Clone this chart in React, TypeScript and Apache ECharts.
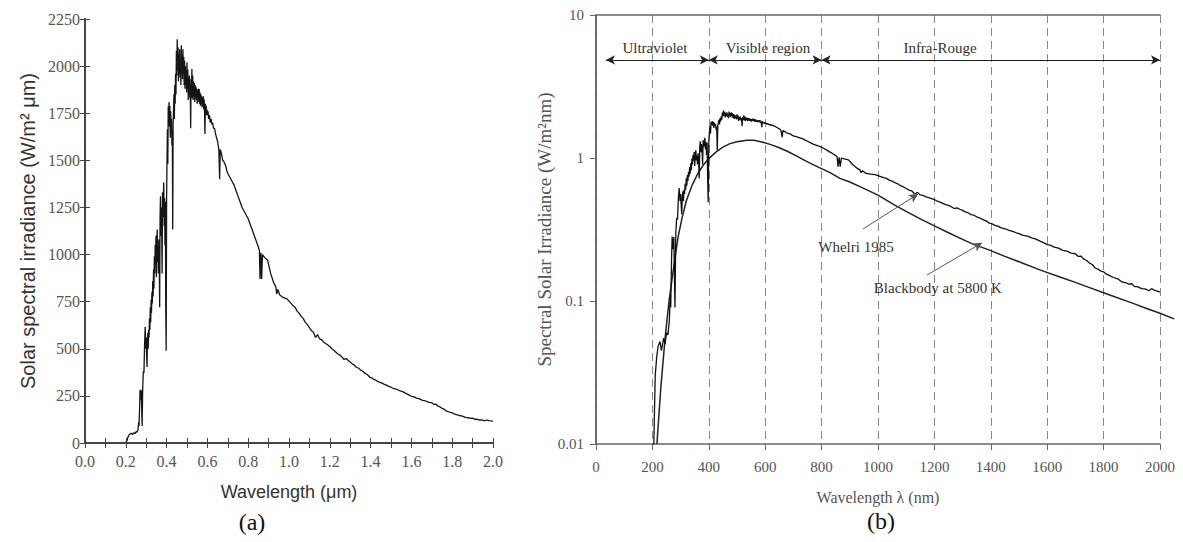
import React, { useEffect, useRef } from 'react';
import * as echarts from 'echarts';

// ---- Measured solar spectrum (wavelength in nm, irradiance in W/m²·µm) ----
const spectrumNm = [
  200, 205, 210, 215, 220, 227, 232, 240, 245, 250, 255, 260, 263, 265, 268, 270, 273, 276, 280, 283,
  286, 289, 292, 295, 298, 300, 302, 304, 306, 308, 310, 312, 314, 316, 318, 320, 322, 324, 326, 328,
  330, 332, 334, 336, 338, 340, 342, 344, 346, 348, 350, 352, 354, 356, 358, 360, 362, 364, 366, 368,
  370, 372, 374, 376, 378, 380, 382, 384, 386, 388, 390, 392, 394, 396, 398, 400, 402, 404, 406, 408,
  410, 412, 414, 416, 418, 420, 422, 424, 426, 428, 430, 432, 434, 436, 438, 440, 442, 444, 446, 448,
  450, 452, 454, 456, 458, 460, 462, 464, 466, 468, 470, 472, 474, 476, 478, 480, 482, 484, 486, 488,
  490, 492, 494, 496, 498, 500, 502, 504, 506, 508, 510, 512, 514, 516, 518, 520, 522, 524, 526, 528,
  530, 532, 534, 536, 538, 540, 542, 544, 546, 548, 550, 552, 554, 556, 558, 560, 562, 564, 566, 568,
  570, 572, 574, 576, 578, 580, 582, 584, 586, 588, 590, 592, 594, 596, 598, 600, 603, 606, 610, 614,
  618, 622, 626, 630, 635, 640, 645, 650, 656, 660, 663, 670, 675, 680, 690, 695, 700, 710, 720, 730,
  740, 750, 760, 770, 780, 790, 800, 810, 820, 830, 840, 850, 855, 858, 862, 866, 870, 880, 895, 910,
  925, 935, 940, 945, 955, 973, 990, 1007, 1020, 1030, 1040, 1050, 1060, 1070, 1080, 1090, 1100, 1110, 1120, 1130,
  1140, 1150, 1160, 1170, 1180, 1190, 1200, 1210, 1220, 1230, 1240, 1250, 1260, 1270, 1280, 1290, 1300, 1310, 1320, 1330,
  1340, 1350, 1360, 1370, 1385, 1395, 1405, 1415, 1425, 1435, 1450, 1465, 1480, 1490, 1500, 1515, 1530, 1545, 1560, 1575,
  1590, 1600, 1610, 1625, 1640, 1655, 1670, 1685, 1700, 1710, 1720, 1730, 1740, 1750, 1760, 1770, 1780, 1790, 1800, 1810,
  1820, 1835, 1850, 1865, 1880, 1890, 1900, 1910, 1920, 1935, 1950, 1960, 1970, 1980, 1990, 2000,
];
const spectrumWm2um = [
  5, 10, 30, 40, 48, 52, 45, 55, 50, 60, 58, 72, 110, 90, 200, 282, 230, 280, 90, 300,
  380, 372, 520, 617, 500, 560, 470, 404, 540, 585, 500, 600, 560, 660, 600, 720, 640, 760, 690, 800,
  740, 860, 777, 920, 820, 990, 900, 1050, 957, 1100, 880, 1050, 1133, 960, 1040, 900, 1080, 980, 720, 1200,
  1309, 1100, 1250, 1150, 900, 1330, 1200, 1290, 1383, 1150, 1300, 1050, 1280, 700, 490, 1300, 1500, 1665, 1480, 1787,
  1700, 1810, 1680, 1790, 1620, 1760, 1680, 1720, 1580, 1660, 1133, 1700, 1760, 1850, 1720, 1900, 1800, 1960, 1850, 2080,
  1950, 2143, 1980, 2100, 1920, 2060, 1960, 2090, 1940, 2040, 1900, 2110, 1960, 2060, 1930, 2090, 1960, 2050, 1900, 2030,
  1880, 2000, 1900, 1980, 1860, 2021, 1880, 1980, 1820, 1940, 1850, 1950, 1830, 1900, 1670, 1930, 1840, 1984, 1830, 1950,
  1820, 1920, 1840, 1910, 1810, 1900, 1830, 1890, 1820, 1880, 1800, 1870, 1820, 1880, 1810, 1878, 1800, 1860, 1790, 1850,
  1800, 1840, 1780, 1830, 1790, 1840, 1770, 1824, 1760, 1640, 1800, 1760, 1790, 1740, 1770, 1740, 1760, 1720, 1740, 1700,
  1720, 1690, 1700, 1670, 1670, 1640, 1620, 1600, 1560, 1400, 1558, 1530, 1500, 1495, 1470, 1445, 1430, 1410, 1390, 1370,
  1340, 1310, 1280, 1250, 1230, 1210, 1190, 1160, 1130, 1100, 1070, 1040, 1020, 870, 1010, 870, 1000, 985, 970, 900,
  850, 830, 790, 815, 785, 771, 765, 745, 728, 720, 700, 688, 672, 660, 640, 628, 612, 596, 588, 560,
  575, 552, 548, 535, 528, 520, 512, 500, 492, 482, 472, 466, 456, 443, 448, 438, 430, 420, 414, 402,
  398, 388, 382, 372, 362, 350, 346, 338, 334, 326, 320, 312, 306, 300, 296, 288, 284, 276, 271, 262,
  254, 248, 246, 238, 234, 226, 223, 216, 214, 205, 206, 196, 192, 184, 180, 170, 167, 162, 160, 154,
  151, 146, 143, 136, 134, 131, 132, 126, 126, 122, 121, 118, 122, 119, 117, 116,
];

// ---- Blackbody at 5800 K (wavelength in nm, irradiance in W/m²·nm) ----
const blackbodyNm = [
  216, 230, 245, 259, 275, 291, 305, 320, 340, 360, 380, 400, 425, 450, 475, 500, 535, 560, 592, 620,
  650, 680, 712, 750, 790, 830, 865, 900, 936, 1000, 1050, 1103, 1150, 1200, 1250, 1300, 1337, 1400, 1450, 1500,
  1574, 1650, 1700, 1750, 1812, 1900, 1950, 2000, 2050,
];
const blackbodyWm2nm = [
  0.01, 0.025, 0.055, 0.1, 0.17, 0.28, 0.38, 0.5, 0.64, 0.77, 0.89, 0.99, 1.1, 1.19, 1.26, 1.3, 1.33, 1.33, 1.29, 1.24,
  1.18, 1.11, 1.03, 0.94, 0.86, 0.79, 0.72, 0.68, 0.63, 0.55, 0.48, 0.42, 0.375, 0.335, 0.3, 0.27, 0.25, 0.225, 0.205, 0.188,
  0.165, 0.146, 0.135, 0.124, 0.112, 0.097, 0.089, 0.082, 0.075,
];

// ---- Axis ticks ----
const leftXTicks = { min: 0, max: 2, step: 0.2 };
const leftYTicks = { min: 0, max: 2250, step: 250 };
const rightXTicks = { min: 0, max: 2000, step: 200 };
const rightYTickLabels = ['0.01', '0.1', '1', '10'];

// ---- Annotations on panel (b) (data coordinates) ----
const regionArrowLevel = 4.85;
const regionArrows = [
  { from: 35, to: 400 },
  { from: 400, to: 800 },
  { from: 800, to: 2000 },
];
const regionLabels = [
  { text: 'Ultraviolet', x: 209, y: 5.9 },
  { text: 'Visible region', x: 610, y: 5.9 },
  { text: 'Infra-Rouge', x: 1220, y: 5.9 },
];
const pointerArrows = [
  { x1: 947, y1: 0.319, x2: 1142, y2: 0.56 },
  { x1: 1174, y1: 0.152, x2: 1369, y2: 0.255 },
];
const curveLabels = [
  { text: 'Whelri 1985', x: 922, y: 0.239 },
  { text: 'Blackbody at 5800 K', x: 1212, y: 0.123 },
];
const panelCaptions = [
  { text: '(a)', px: 252, py: 522 },
  { text: '(b)', px: 881, py: 521 },
];

const SERIF = '"Liberation Serif", "Times New Roman", serif';
const SANS = '"Liberation Sans", Arial, sans-serif';

export default function App() {
  const ref = useRef<HTMLDivElement>(null);

  useEffect(() => {
    if (!ref.current) return;
    const chart = echarts.init(ref.current, undefined, { renderer: 'svg' });

    const leftData = spectrumNm.map((nm, i) => [nm / 1000, spectrumWm2um[i]]);
    const rightData = spectrumNm.map((nm, i) => [nm, spectrumWm2um[i] / 1000]);
    const bbData = blackbodyNm.map((nm, i) => [nm, blackbodyWm2nm[i]]);

    const leftFrame = { color: '#444', width: 1.8 };
    const rightFrame = { color: '#666', width: 1.5 };
    const plain = (v: number) => String(v);

    const option: any = {
      animation: false,
      backgroundColor: '#fff',
      grid: [
        { left: 85, top: 19, width: 408, height: 424 },
        { left: 596, top: 15, width: 564, height: 429 },
      ],
      xAxis: [
        {
          gridIndex: 0, type: 'value', position: 'bottom',
          min: leftXTicks.min, max: leftXTicks.max, interval: leftXTicks.step,
          axisLine: { show: true, lineStyle: leftFrame },
          axisTick: { show: true, inside: true, length: 5, lineStyle: { color: '#444', width: 1 } },
          minorTick: { show: true, splitNumber: 2, length: 5, lineStyle: { color: '#444', width: 1 } },
          axisLabel: { formatter: (v: number) => v.toFixed(1), color: '#555', fontFamily: SERIF, fontSize: 16, margin: 10 },
          splitLine: { show: false },
          name: 'Wavelength (μm)', nameLocation: 'middle', nameGap: 40,
          nameTextStyle: { fontFamily: SANS, fontSize: 18, color: '#333' },
        },
        {
          gridIndex: 0, type: 'value', position: 'top',
          min: leftXTicks.min, max: leftXTicks.max, interval: leftXTicks.step,
          axisLine: { show: true, lineStyle: leftFrame },
          axisTick: { show: true, inside: true, length: 5, lineStyle: { color: '#444', width: 1 } },
          minorTick: { show: true, splitNumber: 2, length: 5, lineStyle: { color: '#444', width: 1 } },
          axisLabel: { show: false }, splitLine: { show: false },
        },
        {
          gridIndex: 1, type: 'value', position: 'bottom',
          min: rightXTicks.min, max: rightXTicks.max, interval: rightXTicks.step,
          axisLine: { show: true, lineStyle: rightFrame },
          axisTick: { show: true, inside: false, length: 6, lineStyle: { color: '#666', width: 1 } },
          axisLabel: { color: '#555', fontFamily: SERIF, fontSize: 15, margin: 15, formatter: plain },
          splitLine: { show: true, lineStyle: { color: '#888', width: 1, type: [8, 5] } },
          name: 'Wavelength λ (nm)', nameLocation: 'middle', nameGap: 45,
          nameTextStyle: { fontFamily: SERIF, fontSize: 16, color: '#555' },
        },
        {
          gridIndex: 1, type: 'value', position: 'top',
          min: rightXTicks.min, max: rightXTicks.max, interval: rightXTicks.step,
          axisLine: { show: true, lineStyle: rightFrame },
          axisTick: { show: false }, axisLabel: { show: false }, splitLine: { show: false },
        },
      ],
      yAxis: [
        {
          gridIndex: 0, type: 'value', position: 'left',
          min: leftYTicks.min, max: leftYTicks.max, interval: leftYTicks.step,
          axisLine: { show: true, lineStyle: leftFrame },
          axisTick: { show: true, inside: true, length: 5, lineStyle: { color: '#444', width: 1 } },
          axisLabel: { color: '#555', fontFamily: SERIF, fontSize: 16, margin: 5, formatter: plain },
          splitLine: { show: false },
          name: 'Solar spectral irradiance (W/m² μm)', nameLocation: 'middle', nameGap: 47,
          nameTextStyle: { fontFamily: SANS, fontSize: 20, color: '#333' },
        },
        {
          gridIndex: 0, type: 'value', position: 'right',
          min: leftYTicks.min, max: leftYTicks.max, interval: leftYTicks.step,
          axisLine: { show: true, lineStyle: leftFrame },
          axisTick: { show: true, inside: true, length: 5, lineStyle: { color: '#444', width: 1 } },
          axisLabel: { show: false }, splitLine: { show: false },
        },
        {
          gridIndex: 1, type: 'log', logBase: 10, position: 'left',
          min: 0.01, max: 10,
          axisLine: { show: true, lineStyle: rightFrame },
          axisTick: { show: true, inside: false, length: 6, lineStyle: { color: '#666', width: 1 } },
          axisLabel: {
            color: '#555', fontFamily: SERIF, fontSize: 15, margin: 12,
            formatter: (v: number) => rightYTickLabels[Math.round(Math.log10(v)) + 2] ?? '',
          },
          splitLine: { show: false },
          name: 'Spectral Solar Irradiance (W/m²nm)', nameLocation: 'middle', nameGap: 40,
          nameTextStyle: { fontFamily: SERIF, fontSize: 19, color: '#555' },
        },
        {
          gridIndex: 1, type: 'log', logBase: 10, position: 'right',
          min: 0.01, max: 10,
          axisLine: { show: true, lineStyle: rightFrame },
          axisTick: { show: false }, axisLabel: { show: false }, splitLine: { show: false },
        },
      ],
      series: [
        {
          type: 'line', xAxisIndex: 0, yAxisIndex: 0, data: leftData,
          symbol: 'none', clip: true,
          lineStyle: { color: '#151515', width: 1.3 },
        },
        {
          type: 'line', xAxisIndex: 2, yAxisIndex: 2, data: rightData,
          symbol: 'none', clip: true,
          lineStyle: { color: '#111', width: 1.3 },
          markLine: {
            silent: true,
            symbolSize: [7, 9],
            lineStyle: { color: '#222', width: 1, type: 'solid' },
            label: { show: false },
            emphasis: { disabled: true },
            data: [
              ...regionArrows.map((a) => [
                { coord: [a.from, regionArrowLevel], symbol: 'arrow' },
                { coord: [a.to, regionArrowLevel], symbol: 'arrow' },
              ]),
              ...pointerArrows.map((a) => [
                { coord: [a.x1, a.y1], symbol: 'none', lineStyle: { color: '#555' } },
                { coord: [a.x2, a.y2], symbol: 'arrow' },
              ]),
            ],
          },
          markPoint: {
            silent: true,
            symbol: 'rect', symbolSize: 1,
            itemStyle: { color: 'rgba(0,0,0,0)' },
            label: { show: true, position: 'inside', formatter: '{b}', color: '#333', fontFamily: SERIF, fontSize: 15 },
            data: [...regionLabels, ...curveLabels].map((t) => ({ name: t.text, coord: [t.x, t.y] })),
          },
        },
        {
          // Blackbody curve drawn as one polyline through the axis scales; it runs slightly past 2000 nm as in the source figure.
          type: 'custom', xAxisIndex: 2, yAxisIndex: 2, data: bbData, clip: false,
          encode: { x: 0, y: 1 },
          renderItem: (params: any, api: any) => {
            if (params.dataIndex !== 0) return null;
            const pts = bbData.map((d) => api.coord(d));
            return {
              type: 'polyline',
              shape: { points: pts },
              style: { stroke: '#222', lineWidth: 1.5, fill: null },
              silent: true,
            };
          },
        },
      ],
      graphic: panelCaptions.map((c) => ({
        type: 'text', x: c.px, y: c.py,
        style: { text: c.text, fontFamily: SERIF, fontSize: 24, fill: '#111', align: 'center', verticalAlign: 'middle' },
      })),
    };

    chart.setOption(option);
    return () => chart.dispose();
  }, []);

  return (
    <div
      ref={ref}
      style={{ position: 'absolute', left: 0, top: 0, width: 1183, height: 542, background: '#fff' }}
    />
  );
}
